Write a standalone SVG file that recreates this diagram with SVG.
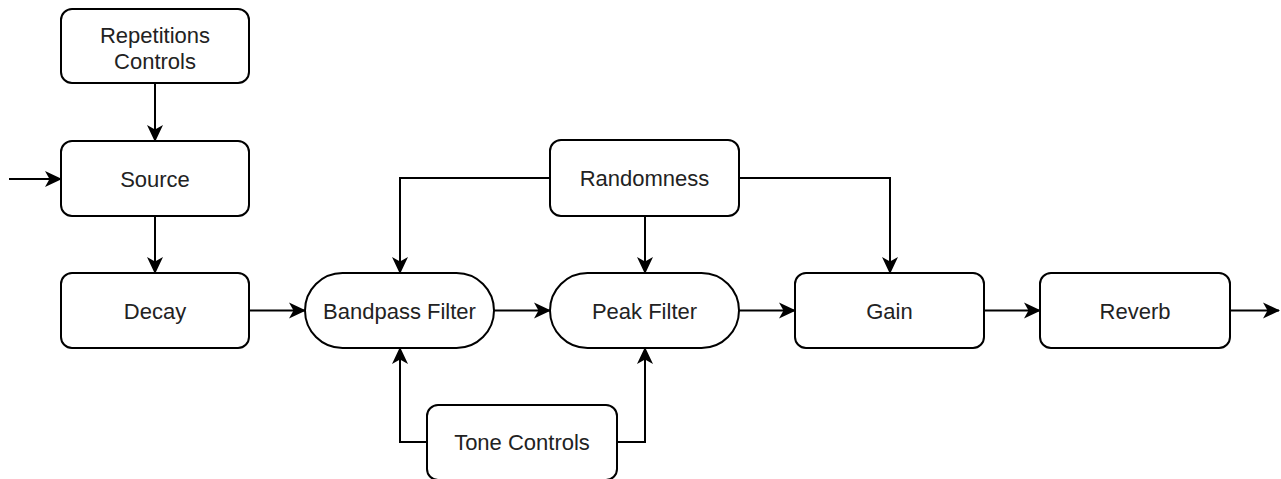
<svg xmlns="http://www.w3.org/2000/svg" width="1281" height="479" viewBox="0 0 1281 479">
<style>
.box{fill:#fff;stroke:#000;stroke-width:2}
.lbl{font-family:"Liberation Sans",Arial,sans-serif;font-size:22px;fill:#222;text-anchor:middle}
.edge{fill:none;stroke:#000;stroke-width:2}
</style>
<defs>
<marker id="arr" markerUnits="userSpaceOnUse" markerWidth="17" markerHeight="17" viewBox="0 0 17 17" refX="16" refY="8.5" orient="auto">
<path d="M0,0.5 L17,8.5 L0,16.5 L4.5,8.5 Z" fill="#000"/>
</marker>
</defs>
<rect width="1281" height="479" fill="#fff"/>
<g id="connectors">
<path class="edge" marker-end="url(#arr)" d="M9,179 H61"/>
<path class="edge" marker-end="url(#arr)" d="M155,83 V141"/>
<path class="edge" marker-end="url(#arr)" d="M155,216 V273"/>
<path class="edge" marker-end="url(#arr)" d="M249,310.5 H305"/>
<path class="edge" marker-end="url(#arr)" d="M494,310.5 H550"/>
<path class="edge" marker-end="url(#arr)" d="M739,310.5 H795"/>
<path class="edge" marker-end="url(#arr)" d="M984,310.5 H1040"/>
<path class="edge" marker-end="url(#arr)" d="M1230,310.5 H1279"/>
<path class="edge" marker-end="url(#arr)" d="M550,178 H400 V273"/>
<path class="edge" marker-end="url(#arr)" d="M645,216 V273"/>
<path class="edge" marker-end="url(#arr)" d="M739,178 H890 V273"/>
<path class="edge" marker-end="url(#arr)" d="M427,442 H400 V348"/>
<path class="edge" marker-end="url(#arr)" d="M617,442 H645 V348"/>
</g>
<g id="repetitions">
<rect class="box" x="61" y="9" width="188" height="74" rx="11"/>
<text class="lbl" x="155" y="43">Repetitions</text>
<text class="lbl" x="155" y="69">Controls</text>
</g>
<g id="source">
<rect class="box" x="61" y="141" width="188" height="75" rx="11"/>
<text class="lbl" x="155" y="187">Source</text>
</g>
<g id="decay">
<rect class="box" x="61" y="273" width="188" height="75" rx="11"/>
<text class="lbl" x="155" y="318.5">Decay</text>
</g>
<g id="bandpass">
<rect class="box" x="305" y="273" width="189" height="75" rx="37.5"/>
<text class="lbl" x="399.5" y="318.5">Bandpass Filter</text>
</g>
<g id="peak">
<rect class="box" x="550" y="273" width="189" height="75" rx="37.5"/>
<text class="lbl" x="644.5" y="318.5">Peak Filter</text>
</g>
<g id="randomness">
<rect class="box" x="550" y="140" width="189" height="76" rx="11"/>
<text class="lbl" x="644.5" y="186">Randomness</text>
</g>
<g id="gain">
<rect class="box" x="795" y="273" width="189" height="75" rx="11"/>
<text class="lbl" x="889.5" y="318.5">Gain</text>
</g>
<g id="reverb">
<rect class="box" x="1040" y="273" width="190" height="75" rx="11"/>
<text class="lbl" x="1135" y="318.5">Reverb</text>
</g>
<g id="tone">
<rect class="box" x="427" y="405" width="190" height="75" rx="11"/>
<text class="lbl" x="522" y="450">Tone Controls</text>
</g>
</svg>
